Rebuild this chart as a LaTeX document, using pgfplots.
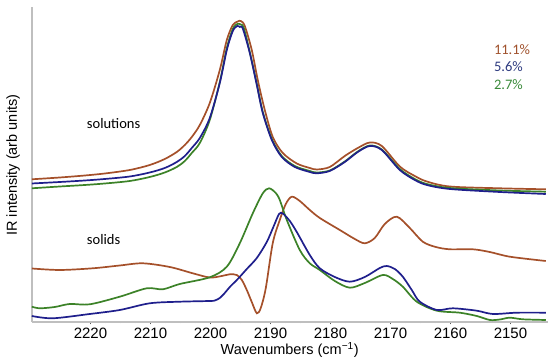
\documentclass[border=0pt]{standalone}
\usepackage{fontspec}
\setmainfont{Liberation Sans}
\newfontfamily\calibri{Carlito}
\usepackage{pgfplots}
\pgfplotsset{compat=1.18}
\definecolor{cbrown}{HTML}{A5502A}
\definecolor{cblue}{HTML}{1F1F8C}
\definecolor{cgreen}{HTML}{3C8228}
\definecolor{lbrown}{HTML}{A0522D}
\definecolor{lblue}{HTML}{2E3B80}
\definecolor{lgreen}{HTML}{3A8A3A}
\definecolor{axgray}{HTML}{BFBFBF}
\begin{document}
\begin{tikzpicture}
\begin{axis}[
  at={(31.7pt,41pt)}, anchor=south west,
  scale only axis, width=516pt, height=315pt,
  x dir=reverse,
  xmin=2143.8, xmax=2229.8,
  ymin=0, ymax=315,
  axis x line*=bottom, axis y line*=left,
  axis line style={axgray, line width=2pt, -},
  ytick=\empty,
  xtick={2150,2160,...,2220},
  minor x tick num=3,
  xtick pos=bottom, tick align=outside,
  major tick length=2.5pt, minor tick length=1.5pt,
  every tick/.style={black!65, line width=0.9pt},
  every minor tick/.style={black!35, line width=0.7pt},
  /pgf/number format/assume math mode=true,
  /pgf/number format/1000 sep={},
  ticklabel style={font=\fontsize{15}{16}\selectfont},
  xlabel={Wavenumbers (cm\textsuperscript{−1})},
  ylabel={IR intensity (arb units)},
  label style={font=\fontsize{14.5}{16}\selectfont},
  x label style={at={(axis description cs:0.5,-0.089)}, anchor=center},
  y label style={at={(axis description cs:-0.036,0.498)}, anchor=center, rotate=0},
  every axis plot/.append style={line width=1.7pt, smooth, tension=0.5, no markers},
]
% solutions
\addplot[cbrown] coordinates {
(2229.78,142.7)(2225.12,144.5)(2220.95,146.5)(2217.62,148.5)(2213.45,152)(2210.12,157)
(2207.62,163)(2205.62,170)(2204.28,177)(2203.12,185)(2201.78,197)(2200.12,219)(2198.45,252)
(2197.28,282)(2196.28,297)(2195.45,300.5)(2194.95,301)(2194.28,296)(2193.12,272)
(2192.12,242)(2190.95,212)(2189.62,185)(2187.95,169)(2185.62,158.5)(2183.45,154)
(2182.28,152.5)(2180.12,155)(2177.62,166)(2175.45,174)(2173.45,179.5)(2171.45,176)
(2168.45,155.5)(2165.95,146)(2163.95,140.5)(2160.12,135.5)(2151.78,133.7)(2144.12,132.7)};
\addplot[cgreen] coordinates {
(2229.78,133.7)(2225.12,135.5)(2220.95,137)(2217.62,138.5)(2213.45,141)(2210.12,145)
(2207.62,149.5)(2205.62,155)(2204.28,161)(2203.12,169)(2201.78,179)(2200.12,202)(2198.45,240)
(2197.28,274)(2196.28,293)(2195.53,298)(2194.95,297.5)(2194.45,294)(2193.45,270)
(2192.28,238)(2191.28,210)(2189.78,183)(2188.12,166)(2185.95,156)(2183.45,151)
(2182.28,149.5)(2180.12,151.5)(2177.62,160.5)(2175.45,170.5)(2173.45,176.5)(2171.45,172.5)
(2168.45,153)(2165.95,143)(2163.95,138)(2160.12,134)(2151.78,131.5)(2144.12,130.3)};
\addplot[cblue] coordinates {
(2229.78,138.5)(2225.12,140)(2220.95,141.5)(2217.62,143)(2213.45,145.5)(2210.12,149.5)
(2207.62,154)(2205.62,160)(2204.28,166)(2203.12,174)(2201.78,184)(2200.12,204)(2198.45,239)
(2197.28,272)(2196.28,291)(2195.53,296)(2195.12,295)(2194.62,293.5)(2193.45,269)
(2192.28,237)(2191.28,209)(2189.78,182)(2188.12,165)(2185.95,155)(2183.45,150)
(2182.28,148.7)(2180.12,151)(2177.62,160)(2175.45,170)(2173.45,176)(2171.45,172)
(2168.45,152)(2165.95,142)(2163.95,137)(2160.12,133)(2151.78,130)(2144.12,128)};
% solids
\addplot[cbrown] coordinates {
(2229.78,53.5)(2225.12,52)(2219.62,53.7)(2215.12,56.5)(2211.28,58.7)(2206.78,55)
(2202.95,48.7)(2200.12,44.5)(2198.12,46)(2196.78,47.7)(2195.62,47)(2194.78,42)
(2193.95,32)(2193.12,20)(2192.28,8.7)(2191.62,14)(2190.78,34)(2189.62,79)
(2188.45,102)(2187.45,118)(2186.45,125.3)(2185.12,121)(2183.45,112)(2181.78,104)
(2178.45,92)(2175.95,83)(2174.28,78.7)(2172.62,84)(2170.95,98)(2168.95,105.3)
(2166.78,94)(2164.62,80.3)(2162.45,75)(2160.12,72.7)(2156.28,72.7)(2153.45,70)
(2150.12,65.3)(2144.12,61)};
\addplot[cgreen] coordinates {
(2229.78,15.3)(2228.45,13.7)(2225.95,15)(2223.45,18)(2220.12,17.7)(2215.12,25.3)
(2210.62,33.7)(2207.95,32.7)(2205.12,38)(2200.12,44.7)(2197.28,55.3)(2195.12,78.7)
(2192.95,108.7)(2191.28,128.7)(2190.23,133.7)(2189.12,129)(2188.45,122)(2187.28,102)
(2185.12,72)(2183.45,58.7)(2181.78,52)(2179.28,41)(2176.78,34.3)(2174.28,39)
(2171.28,47)(2169.62,43)(2167.95,35.3)(2165.62,20.3)(2162.28,11.3)(2158.45,9.3)
(2155.62,6)(2153.45,2)(2151.78,2.5)(2150.12,4.3)(2147.95,2.7)(2144.12,2)};
\addplot[cblue] coordinates {
(2229.78,6)(2226.28,3.7)(2220.12,8)(2215.12,12)(2210.12,18.7)(2205.12,20.3)
(2200.12,21)(2199.28,21.5)(2198.45,24)(2197.62,29)(2196.78,35)(2195.45,43)
(2193.95,53)(2192.28,64)(2190.62,80)(2189.45,96)(2188.57,108)(2187.95,108.5)
(2186.78,101)(2185.62,90)(2183.45,67)
(2181.78,53.7)(2179.28,45)(2176.78,40.3)(2174.28,45)(2171.78,54)(2170.62,56)
(2169.28,53)(2167.95,45.3)(2166.45,32)(2165.12,20.3)(2162.28,12)(2159.62,13.7)
(2155.62,11.3)(2152.95,8)(2148.95,9.3)(2144.12,9.3)};
\node[anchor=west, inner sep=0pt, font=\calibri\fontsize{14.5}{16}\selectfont] at (axis cs:2220.62,198) {solutions};
\node[anchor=west, inner sep=0pt, font=\calibri\fontsize{14.5}{16}\selectfont] at (axis cs:2220.62,82) {solids};
\node[anchor=west, inner sep=0pt, text=lbrown, font=\calibri\fontsize{14.5}{16}\selectfont] at (axis cs:2152.78,272.7) {11.1\%};
\node[anchor=west, inner sep=0pt, text=lblue, font=\calibri\fontsize{14.5}{16}\selectfont] at (axis cs:2152.78,255.3) {5.6\%};
\node[anchor=west, inner sep=0pt, text=lgreen, font=\calibri\fontsize{14.5}{16}\selectfont] at (axis cs:2152.78,237.7) {2.7\%};
\end{axis}
\pgfresetboundingbox
\path (0,0) rectangle (550pt,363pt);
\end{tikzpicture}
\end{document}
